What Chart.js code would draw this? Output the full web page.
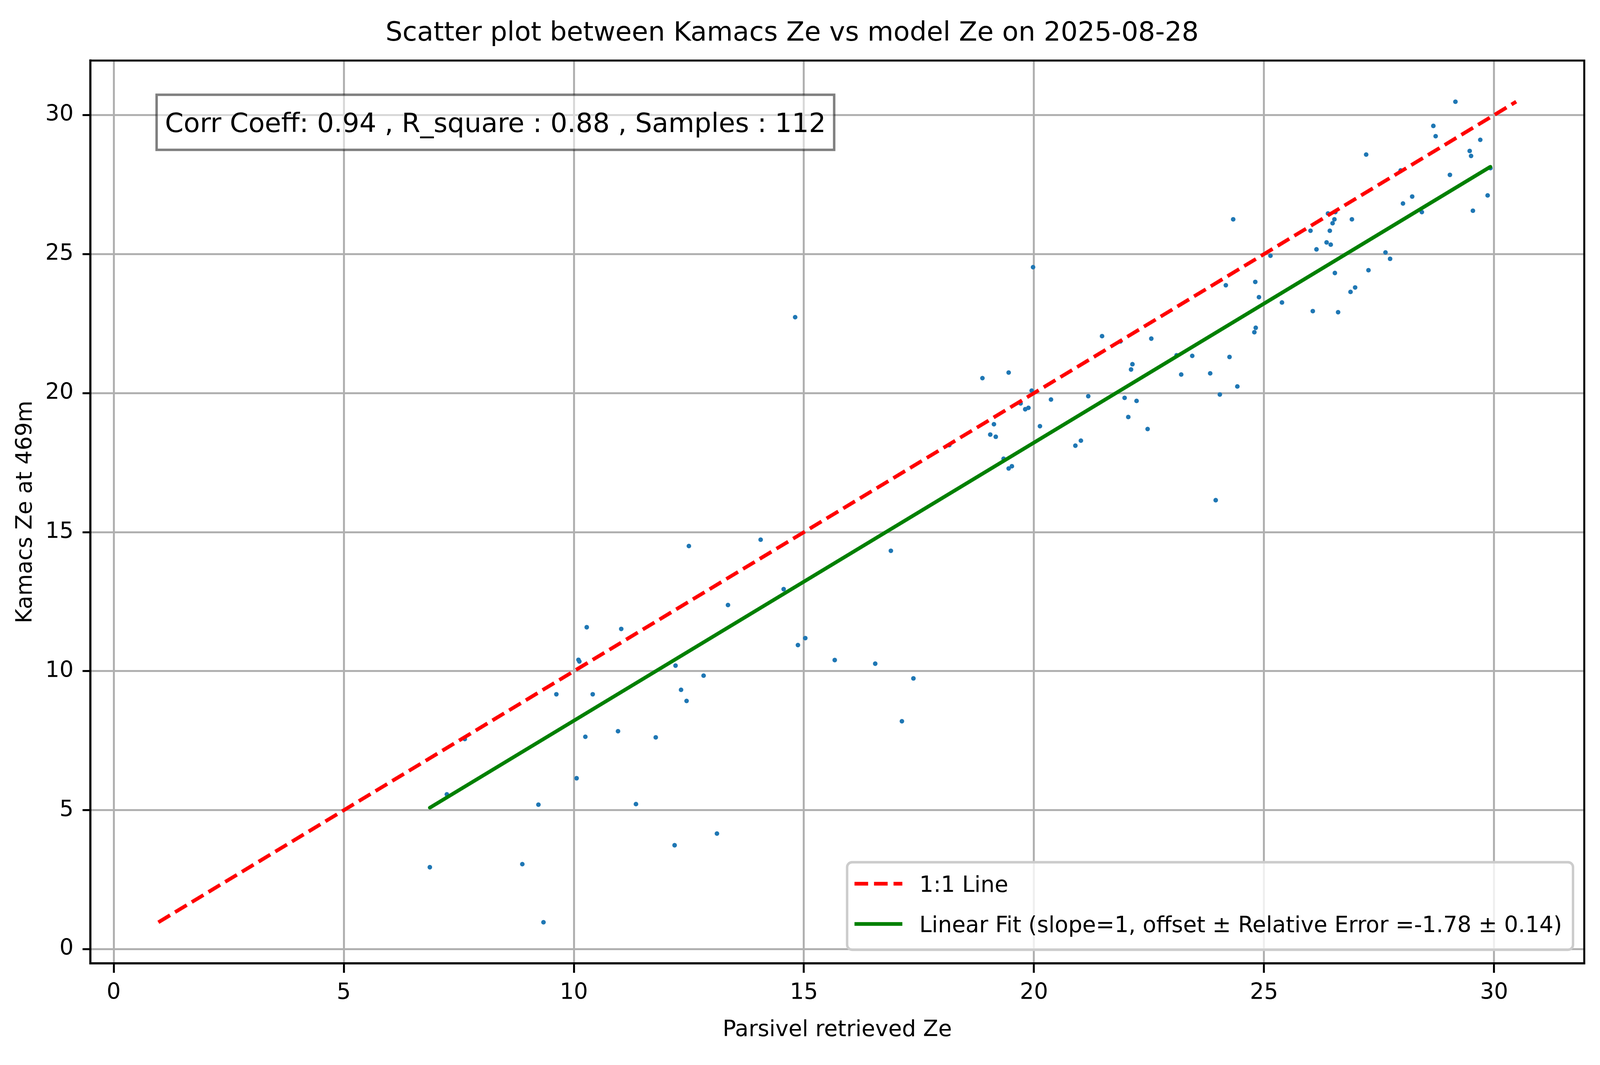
<!DOCTYPE html>
<html>
<head>
<meta charset="utf-8">
<script src="https://cdn.jsdelivr.net/npm/chart.js@4.4.1/dist/chart.umd.min.js"></script>
<style>
  html, body { margin: 0; padding: 0; background: #fff; overflow: hidden; }
  canvas { display: block; }
</style>
</head>
<body>
<canvas id="chart"></canvas>
<script>
// values
const parsivelZe = [
  10.28, 11.03, 10.10, 10.12, 12.21, 9.62, 10.41, 12.33, 12.45, 7.63, 10.25, 10.96, 11.78, 10.06, 7.24, 9.23, 11.35, 12.19, 6.87, 8.88, 9.34,
  12.50, 14.06, 16.89, 14.56, 13.35, 14.87, 15.03, 15.67, 16.55, 12.82, 17.38, 17.13, 13.11,
  14.81,
  19.98, 21.48, 21.88, 22.55, 23.10, 23.44, 22.14, 22.11, 23.20, 23.83, 24.04, 18.88, 19.45, 19.95, 19.71, 19.81, 19.88,
  20.37, 21.18, 21.97, 22.23, 22.05, 22.47, 20.13, 19.13, 19.05, 19.17, 18.16, 20.90, 21.02, 19.34, 19.45, 19.52, 23.95,
  29.16, 28.68, 28.73, 29.70, 29.47, 29.50, 27.22, 29.92, 27.97, 29.04, 28.22, 28.02, 29.86, 29.54, 28.43, 24.33, 26.39,
  26.55, 26.53, 26.91, 26.49, 26.01, 26.43, 26.36, 26.45, 26.14, 25.14, 27.64, 27.74, 26.54, 27.27, 26.98, 26.88, 24.17,
  24.81, 24.89, 25.39, 26.06, 26.61, 24.82, 24.79, 24.25, 24.42
];
const kamacsZe = [
  11.58, 11.52, 10.41, 10.35, 10.20, 9.17, 9.17, 9.33, 8.93, 7.56, 7.64, 7.84, 7.62, 6.15, 5.57, 5.20, 5.22, 3.74, 2.95, 3.06, 0.97,
  14.50, 14.73, 14.33, 12.95, 12.38, 10.94, 11.19, 10.40, 10.27, 9.84, 9.74, 8.20, 4.16,
  22.73,
  24.53, 22.05, 21.86, 21.96, 21.36, 21.34, 21.04, 20.85, 20.67, 20.71, 19.95, 20.54, 20.74, 20.09, 19.63, 19.42, 19.47,
  19.77, 19.89, 19.83, 19.72, 19.14, 18.71, 18.81, 18.88, 18.51, 18.43, 18.13, 18.11, 18.29, 17.64, 17.29, 17.37, 16.15,
  30.48, 29.61, 29.24, 29.11, 28.71, 28.53, 28.58, 28.09, 28.01, 27.85, 27.07, 26.82, 27.11, 26.56, 26.51, 26.25, 26.46,
  26.51, 26.25, 26.25, 26.11, 25.84, 25.84, 25.42, 25.34, 25.17, 24.94, 25.06, 24.83, 24.32, 24.42, 23.80, 23.64, 23.88,
  24.00, 23.45, 23.26, 22.95, 22.91, 22.35, 22.19, 21.30, 20.24
];

const oneToOneX = [0.97, 30.48];
const oneToOneY = [0.97, 30.48];
const fitX = [6.87, 29.92];
const fitY = [5.09, 28.14];

const xTicks = [0, 5, 10, 15, 20, 25, 30];
const yTicks = [0, 5, 10, 15, 20, 25, 30];
const xRange = [-0.51, 31.96];
const yRange = [-0.51, 31.96];

const titleText = 'Scatter plot between Kamacs Ze vs model Ze on 2025-08-28';
const xTitle = 'Parsivel retrieved Ze';
const yTitle = 'Kamacs Ze at 469m';
const statsText = 'Corr Coeff: 0.94 , R_square : 0.88 , Samples : 112';
const legendLabels = ['1:1 Line', 'Linear Fit (slope=1, offset \u00b1 Relative Error =-1.78 \u00b1 0.14)'];

// sizes are written for the 4981 x 2726 figure and scaled to fill the window
const W = window.innerWidth;
const H = window.innerHeight;
const SX = W / 4981;
const SY = H / 2726;
const SG = Math.sqrt(SX * SY);
const X = v => v * SX;
const Y = v => v * SY;
const G = v => v * SG;
const F = v => v * SX;          // font sizes follow the width so text spans match

const FONT = "'DejaVu Sans', sans-serif";
const LW = G(10.4);     // 1.5pt line
const THIN = G(5.6);    // 0.8pt spines / grid
const TITLE_PX = F(83);
const LABEL_PX = F(69);

function toPts(xs, ys) {
  return xs.map((x, i) => ({ x: x, y: ys[i] }));
}

// spines on top/right, stats box and legend inside the axes
const overlay = {
  id: 'overlay',
  afterDatasetsDraw(chart) {
    const ctx = chart.ctx;
    const ca = chart.chartArea;
    ctx.save();

    ctx.strokeStyle = '#000';
    ctx.lineWidth = THIN;
    ctx.strokeRect(ca.left, ca.top, ca.right - ca.left, ca.bottom - ca.top);

    // stats text box
    ctx.font = TITLE_PX + 'px ' + FONT;
    const tx = ca.left + 0.05 * (ca.right - ca.left);
    const ty = ca.top + 0.05 * (ca.bottom - ca.top);
    const tw = ctx.measureText(statsText).width;
    const bx = tx - X(26), by = ty - Y(28);
    const bw = tw + X(52), bh = Y(141);
    ctx.fillStyle = 'rgba(255,255,255,0.5)';
    ctx.fillRect(bx, by, bw, bh);
    ctx.strokeStyle = 'rgba(0,0,0,0.5)';
    ctx.lineWidth = G(6.9);
    ctx.strokeRect(bx, by, bw, bh);
    ctx.fillStyle = '#000';
    ctx.textBaseline = 'alphabetic';
    ctx.textAlign = 'left';
    ctx.fillText(statsText, tx, by + bh / 2 + 0.365 * TITLE_PX);

    // legend, lower right
    ctx.font = LABEL_PX + 'px ' + FONT;
    const maxW = Math.max(...legendLabels.map(t => ctx.measureText(t).width));
    const right = ca.right - X(35);
    const bottom = ca.bottom - Y(35);
    const top = bottom - Y(224);
    const textX = right - X(34) - maxW;
    const h1 = textX - X(53);
    const h0 = h1 - X(149);
    const left = h0 - X(23);
    ctx.beginPath();
    ctx.roundRect(left, top, right - left, bottom - top, G(14));
    ctx.fillStyle = 'rgba(255,255,255,0.8)';
    ctx.fill();
    ctx.strokeStyle = '#cccccc';
    ctx.lineWidth = G(6.9);
    ctx.stroke();

    const rows = [bottom - Y(169), bottom - Y(66)];
    const colors = ['red', 'green'];
    rows.forEach((ry, i) => {
      ctx.beginPath();
      ctx.setLineDash(i === 0 ? [G(38.5), G(16.6)] : []);
      ctx.lineCap = 'butt';
      ctx.strokeStyle = colors[i];
      ctx.lineWidth = LW;
      ctx.moveTo(h0, ry);
      ctx.lineTo(h1, ry);
      ctx.stroke();
      ctx.setLineDash([]);
      ctx.fillStyle = '#000';
      ctx.fillText(legendLabels[i], textX, ry + 0.365 * LABEL_PX);
    });

    ctx.restore();
  }
};

Chart.defaults.font.family = FONT;
Chart.defaults.color = '#000';

const canvas = document.getElementById('chart');
canvas.width = Math.floor(W);
canvas.height = Math.floor(H);

const titlePadTop = Y(86) - TITLE_PX * 0.6;
const titlePadBottom = Y(155) - titlePadTop - TITLE_PX * 1.2;

new Chart(canvas.getContext('2d'), {
  type: 'scatter',
  data: {
    datasets: [
      {
        label: legendLabels[1],
        data: toPts(fitX, fitY),
        showLine: true,
        borderColor: 'green',
        borderWidth: LW,
        borderCapStyle: 'round',
        pointRadius: 0,
        order: 0
      },
      {
        label: legendLabels[0],
        data: toPts(oneToOneX, oneToOneY),
        showLine: true,
        borderColor: 'red',
        borderWidth: LW,
        borderDash: [G(38.5), G(16.6)],
        borderCapStyle: 'butt',
        pointRadius: 0,
        order: 1
      },
      {
        label: 'points',
        data: toPts(parsivelZe, kamacsZe),
        backgroundColor: '#1f77b4',
        borderWidth: 0,
        pointRadius: G(6.5),
        pointHoverRadius: G(6.5),
        order: 2
      }
    ]
  },
  options: {
    responsive: false,
    animation: false,
    events: [],
    layout: { padding: { left: 0, right: X(49), top: 0, bottom: 0 } },
    plugins: {
      legend: { display: false },
      tooltip: { enabled: false },
      title: {
        display: true,
        text: titleText,
        color: '#000',
        font: { size: TITLE_PX, weight: 'normal' },
        padding: { top: titlePadTop, bottom: titlePadBottom }
      }
    },
    scales: {
      x: {
        type: 'linear',
        min: xRange[0],
        max: xRange[1],
        afterBuildTicks: s => { s.ticks = xTicks.map(v => ({ value: v })); },
        afterFit: s => { s.height = Y(260); },
        grid: { color: '#b0b0b0', lineWidth: THIN, tickLength: Y(24), tickColor: '#000', tickWidth: THIN },
        border: { color: '#000', width: THIN },
        ticks: { font: { size: LABEL_PX }, padding: Y(18), color: '#000', maxRotation: 0 },
        title: {
          display: true, text: xTitle, font: { size: LABEL_PX },
          padding: { top: 0, bottom: Y(2726 - 2637) - LABEL_PX * 0.6 }
        }
      },
      y: {
        type: 'linear',
        min: yRange[0],
        max: yRange[1],
        afterBuildTicks: s => { s.ticks = yTicks.map(v => ({ value: v })); },
        afterFit: s => { s.width = X(281); },
        grid: { color: '#b0b0b0', lineWidth: THIN, tickLength: X(24), tickColor: '#000', tickWidth: THIN },
        border: { color: '#000', width: THIN },
        ticks: { font: { size: LABEL_PX }, padding: X(28), color: '#000' },
        title: {
          display: true, text: yTitle, font: { size: LABEL_PX },
          padding: { top: X(80) - LABEL_PX * 0.6, bottom: 0 }
        }
      }
    }
  },
  plugins: [overlay]
});
</script>
</body>
</html>
